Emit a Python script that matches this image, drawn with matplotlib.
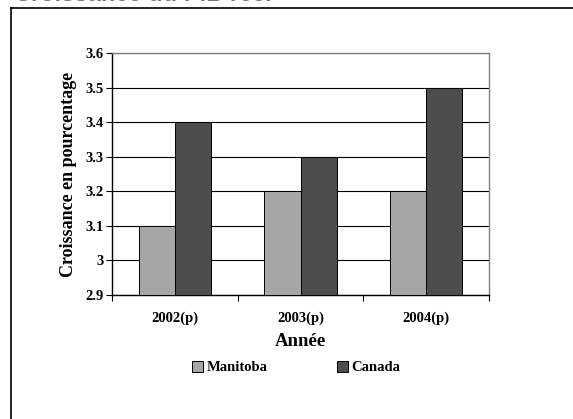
import matplotlib
matplotlib.use("Agg")
import matplotlib.pyplot as plt
import numpy as np
from matplotlib.lines import Line2D

categories = ["2002(p)", "2003(p)", "2004(p)"]
manitoba = [3.1, 3.2, 3.2]
canada = [3.4, 3.3, 3.5]
yticks = [2.9, 3.0, 3.1, 3.2, 3.3, 3.4, 3.5, 3.6]
ytick_labels = ["2.9", "3", "3.1", "3.2", "3.3", "3.4", "3.5", "3.6"]

W, H = 573, 419
fig = plt.figure(figsize=(W / 100, H / 100), dpi=100)
serif = "Liberation Serif"

# outer frame (left and top only visible)
fig.add_artist(Line2D([11 / W, 11 / W], [0, 1 - 8 / H], transform=fig.transFigure, color="black", lw=1.2))
fig.add_artist(Line2D([11 / W, 1], [1 - 8 / H, 1 - 8 / H], transform=fig.transFigure, color="black", lw=1.2))

# clipped title at top
fig.text(14 / W, 1 - 1 / H, "Croissance du PIB réel", fontsize=17, fontweight="bold",
         family="Liberation Sans", color="#777777", va="baseline", ha="left")

x0, x1 = 112, 489
y0, y1 = 53, 295
ax = fig.add_axes([x0 / W, 1 - y1 / H, (x1 - x0) / W, (y1 - y0) / H])

x = np.arange(len(categories))
bw = 0.287
ax.bar(x - bw / 2, np.array(manitoba) - 2.9, bw, bottom=2.9, color="#A6A6A6", edgecolor="black", linewidth=0.7, label="Manitoba", zorder=3)
ax.bar(x + bw / 2, np.array(canada) - 2.9, bw, bottom=2.9, color="#4D4D4D", edgecolor="black", linewidth=0.7, label="Canada", zorder=3)

ax.set_xlim(-0.5, len(categories) - 0.5)
ax.set_ylim(2.9, 3.6)
ax.set_yticks(yticks)
ax.set_yticklabels(ytick_labels, fontsize=10.5, fontweight="bold", family=serif)
ax.set_xticks(x)
ax.set_xticklabels(categories, fontsize=10.5, fontweight="bold", family=serif)
ax.tick_params(axis="x", length=0, pad=12)
ax.set_xticks(np.arange(len(categories) + 1) - 0.5, minor=True)
ax.tick_params(axis="x", which="minor", length=4, width=0.8, direction="out")
ax.tick_params(axis="y", length=4, width=0.8, direction="out", pad=2)

ax.yaxis.grid(True, color="black", linewidth=0.8, zorder=0)
ax.set_axisbelow(True)
for s in ["left", "bottom"]:
    ax.spines[s].set_color("black")
    ax.spines[s].set_linewidth(1.0)
for s in ["top", "right"]:
    ax.spines[s].set_color("#808080")
    ax.spines[s].set_linewidth(1.0)

ax.set_ylabel("Croissance en pourcentage", fontsize=13, fontweight="bold", family=serif, labelpad=6)
ax.set_xlabel("Année", fontsize=13.5, fontweight="bold", family=serif, labelpad=6)

leg = ax.legend(loc="center", bbox_to_anchor=(0.489, -0.3), ncol=2, frameon=False,
                prop={"family": serif, "weight": "bold", "size": 10.5},
                handlelength=0.75, handleheight=0.75, handletextpad=0.2, columnspacing=4.8)

fig.savefig("out.png", dpi=100)
